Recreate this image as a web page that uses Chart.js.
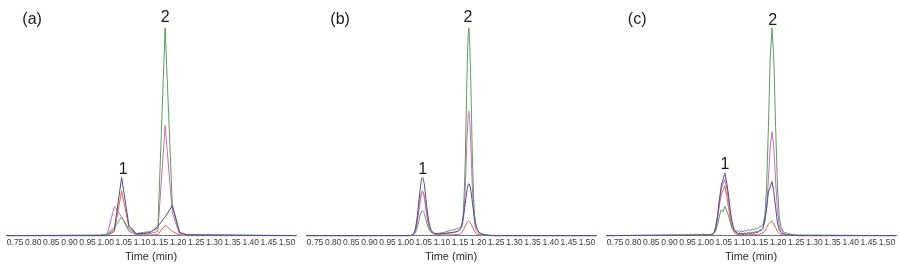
<!DOCTYPE html>
<html>
<head>
<meta charset="utf-8">
<script src="https://cdn.jsdelivr.net/npm/chart.js@4/dist/chart.umd.min.js"></script>
<style>
html,body{margin:0;padding:0;background:#fff;}
#row{display:flex;width:900px;height:265px;}
canvas{display:block;}
</style>
</head>
<body>
<div id="row">
<canvas id="ca" width="300" height="265"></canvas>
<canvas id="cb" width="300" height="265"></canvas>
<canvas id="cc" width="300" height="265"></canvas>
</div>
<script>
// ---------- tick labels ----------
const xTicks = [0.75,0.80,0.85,0.90,0.95,1.00,1.05,1.10,1.15,1.20,1.25,1.30,1.35,1.40,1.45,1.50];
const axisTitle = 'Time (min)';
const panelNames = ['(a)','(b)','(c)'];
const peakNames = ['1','2'];

// ---------- panel (a) ----------
const timeA   = [0.725,0.984,1.004,1.024,1.044,1.064,1.084,1.104,1.124,1.144,1.164,1.184,1.204,1.224,1.525];
const greenA  = [0,0.3,0.8,4,9,3,1,1.5,2,3.5,100,14,1.5,0.5,0];
const blueA   = [0,0,0,3,28,5,1,1,1.5,4.5,9,14.5,1.5,0.3,0];
const pinkA   = [0,0,0.5,14,9,2,0.5,0.5,1,2,53,11,0.5,0,0];
const orangeA = [0,0,0,2,21.5,4,0.5,0.3,0.3,0.5,5,2,0.3,0,0];

// ---------- panel (b) ----------
const timeB   = [0.725,0.95,1.011,1.016,1.021,1.026,1.031,1.036,1.041,1.046,1.051,1.056,1.061,1.066,1.071,1.076,1.081,1.091,1.101,1.111,1.121,1.131,1.141,1.149,1.154,1.159,1.164,1.169,1.174,1.179,1.184,1.189,1.194,1.199,1.204,1.209,1.219,1.229,1.245,1.525];
const greenB  = [0,0,0,0.1,0.4,1.3,3.4,6.8,10.3,12,10.8,7.6,4.5,2.4,1.5,1.1,1.0,1.1,1.4,1.8,2.3,2.8,3.3,3.8,4.8,12,34,76,100,78,38,13,5,2.5,1.5,1.0,0.5,0.2,0,0];
const blueB   = [0,0,0,0.2,0.8,3,8,16,24,28,25,17.5,10,5,2.5,1.4,1,0.8,0.9,1.1,1.3,1.6,2,3,5,9,15,21.5,25,22.5,16,9.5,5,2.5,1.3,0.7,0.3,0.1,0,0];
const pinkB   = [0,0,0,0.15,0.6,2.3,6,12,18,21,19,13,7.5,3.8,2,1.2,0.9,0.8,0.9,1,1.2,1.5,1.9,2.6,3.8,8,21,46,60,47,23,8,3,1.5,0.9,0.5,0.2,0.1,0,0];
const orangeB = [0,0,0,0.1,0.5,2,5.5,12,18.5,21.5,19,12.5,7,3.5,1.8,1,0.6,0.4,0.3,0.3,0.3,0.4,0.5,0.7,1.2,2.5,4.5,6.3,7,6,4.2,2.4,1.2,0.6,0.3,0.15,0.05,0,0,0];

// ---------- panel (c) ----------
const timeC = [0.725,
 0.953,0.958,0.963,0.968,0.973,0.978,0.983,0.988,0.993,0.998,
 1.003,1.008,1.013,1.018,1.023,1.028,1.033,1.038,1.043,1.048,
 1.053,1.058,1.063,1.068,1.073,1.078,1.083,1.088,1.093,1.098,
 1.103,1.108,1.113,1.118,1.123,1.128,1.133,1.138,1.143,1.148,
 1.153,1.158,1.163,1.168,1.173,1.178,1.183,1.188,1.193,1.198,
 1.203,1.208,1.213,1.218,1.223,1.228,1.233,1.238,1.243,1.248,
 1.253,1.525];
const greenC = [0,
 0.3,0.6,0.1,0.5,0.2,0.7,0.3,0.4,0.8,0.3,
 0.5,0.2,0.6,0.4,1,2.5,5.5,9.5,12.5,11.5,
 14,12,9.5,6,3.5,2.5,1.8,2.5,1.6,2.2,
 1.9,2.6,2.1,2.9,2.4,3.2,2.8,3.6,3.1,4.2,
 4.5,5.5,9,23,52,86,100,84,52,24,
 9,4,2.2,1.2,1.5,0.7,0.9,0.4,0.5,0.2,
 0.3,0];
const blueC = [0,
 0.2,0,0.4,0.1,0.3,0,0.5,0.2,0.3,0.1,
 0.3,0.2,0.4,0.6,1.5,4.5,10,17.5,24,27,
 30,25.5,19.5,12,6.5,3.2,1.8,1.2,0.7,1.1,
 0.6,1.0,0.8,1.3,0.9,1.4,1.1,1.7,1.5,2.2,
 2.4,3.5,7.5,13,21,23.5,26,21,13.5,6,
 2.8,1.4,0.9,0.6,0.3,0.5,0.1,0.3,0,0.2,
 0,0];
const pinkC = [0,
 0.1,0.3,0,0.2,0.4,0.1,0.3,0,0.2,0.4,
 0.2,0.5,0.3,0.6,1.3,4,9.5,16.5,22.5,25,
 27,23,17,10.5,5.5,2.8,1.5,1.1,0.8,1.2,
 0.9,1.3,1.0,1.5,1.2,1.7,1.4,2.0,1.8,2.5,
 3.0,4.0,6.5,13,27,43,50,42,26,12,
 5,2.5,1.4,0.8,0.5,0.7,0.2,0.4,0.1,0.3,
 0,0];
const orangeC = [0,
 0.2,0,0.3,0.1,0,0.4,0.2,0.1,0.3,0,
 0.2,0.1,0.3,0.5,1.2,3.5,8.5,15,20,22,
 24,19,13.5,8,4,1.8,0.9,0.5,0.8,0.3,
 0.6,0.2,0.5,0.3,0.6,0.4,0.7,0.5,0.8,0.6,
 1.0,1.2,2.2,3.8,5.5,6.5,7,5.5,3.8,2,
 1.0,0.5,0.3,0.1,0.3,0,0.2,0,0.1,0,
 0,0];

// ---------- label anchor positions (time, intensity) ----------
const panelLabelAt = [[0.797,103.8],[0.819,103.8],[0.811,103.8]];
const peak1LabelAt = [[1.048,31.6],[1.047,31.6],[1.053,34]];
const peak2LabelAt = [[1.164,104.8],[1.172,104.8],[1.185,103.5]];

const colors = {green:'#5a9e5b', blue:'#4a4aa8', pink:'#cc6aae', orange:'#e8642e'};

function pts(t, v){ return t.map((x,i)=>({x:x, y:v[i]})); }

function makeChart(canvasId, idx, time, green, blue, pink, orange, smooth){
  const ds = [
    {data:pts(time,blue),   borderColor:colors.blue},
    {data:pts(time,green),  borderColor:colors.green},
    {data:pts(time,pink),   borderColor:colors.pink},
    {data:pts(time,orange), borderColor:colors.orange}
  ].map(d=>Object.assign(d,{borderWidth:1, pointRadius:0, fill:false, clip:6,
     cubicInterpolationMode: smooth ? 'monotone' : 'default', tension:0}));
  const labelPlugin = {
    id:'lbl'+idx,
    afterDatasetsDraw(chart){
      const ctx = chart.ctx, xs = chart.scales.x, ys = chart.scales.y;
      ctx.save();
      ctx.fillStyle = '#1a1a1a';
      ctx.textAlign = 'center';
      ctx.textBaseline = 'middle';
      ctx.font = '16px "Liberation Sans", Arial, sans-serif';
      const p = panelLabelAt[idx];
      ctx.fillText(panelNames[idx], xs.getPixelForValue(p[0]), ys.getPixelForValue(p[1]));
      const a = peak1LabelAt[idx], b = peak2LabelAt[idx];
      ctx.fillText(peakNames[0], xs.getPixelForValue(a[0]), ys.getPixelForValue(a[1]));
      ctx.fillText(peakNames[1], xs.getPixelForValue(b[0]), ys.getPixelForValue(b[1]));
      ctx.restore();
    }
  };
  return new Chart(document.getElementById(canvasId), {
    type:'line',
    data:{datasets:ds},
    options:{
      responsive:false, animation:false,
      layout:{padding:{left:6,right:4,top:5,bottom:0}},
      plugins:{legend:{display:false}, tooltip:{enabled:false}},
      scales:{
        x:{type:'linear', min:0.725, max:1.525,
           grid:{display:false, drawTicks:false},
           border:{display:true, color:'#6a6aa0', width:1},
           afterBuildTicks:(s)=>{ s.ticks = xTicks.map(v=>({value:v})); },
           ticks:{padding:2, autoSkip:false, maxRotation:0, color:'#3a3a3a',
                  font:{size:8.5, family:'"Liberation Sans", Arial, sans-serif'},
                  callback:(v)=>Number(v).toFixed(2)},
           title:{display:true, text:axisTitle, color:'#2a2a2a',
                  font:{size:11, family:'"Liberation Sans", Arial, sans-serif'},
                  padding:{top:1,bottom:1}}
        },
        y:{display:false, min:0, max:111}
      }
    },
    plugins:[labelPlugin]
  });
}

makeChart('ca',0,timeA,greenA,blueA,pinkA,orangeA,false);
makeChart('cb',1,timeB,greenB,blueB,pinkB,orangeB,true);
makeChart('cc',2,timeC,greenC,blueC,pinkC,orangeC,false);
</script>
</body>
</html>
